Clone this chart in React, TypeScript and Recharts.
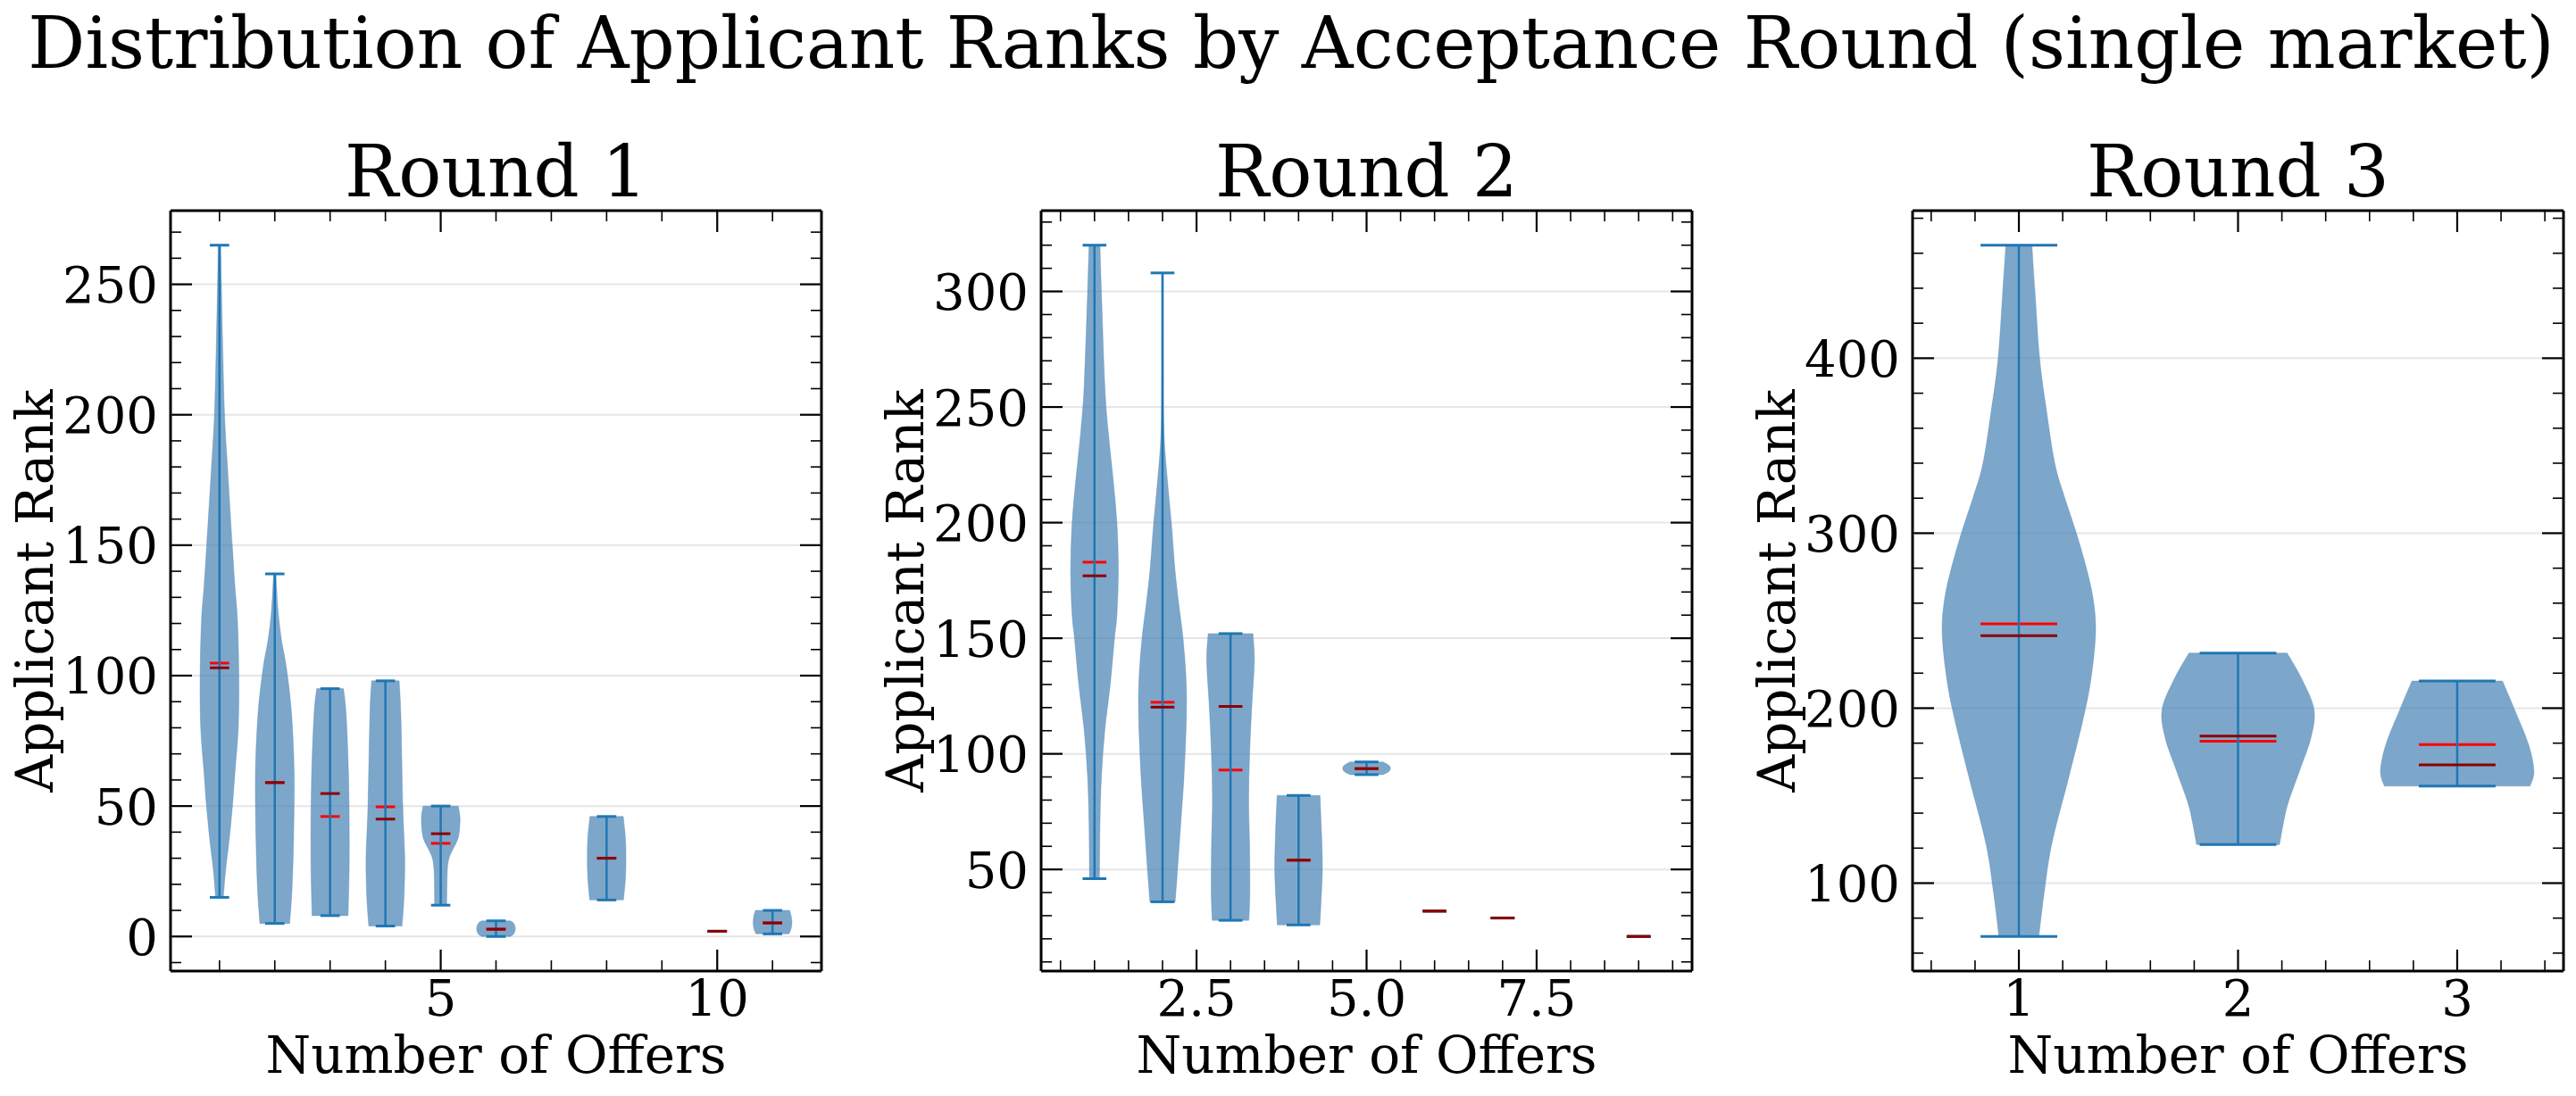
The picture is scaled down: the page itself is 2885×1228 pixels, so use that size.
import React from "react"
import { ComposedChart, XAxis, YAxis, Scatter } from "recharts"

// ---------- Round 1 ----------
const r1Positions = [1, 2, 3, 4, 5, 6, 8, 10, 11]
const r1Mins = [15, 5, 8, 4, 12, 0, 14, 2, 1]
const r1Maxes = [265, 139, 95, 98, 50, 6, 46, 2, 10]
const r1Means = [104.8, 59, 46, 49.7, 35.7, 2.8, 30, 2, 5.2]
const r1Medians = [103, 59, 54.8, 45, 39.4, 2.8, 30, 2, 5.2]
// density outline: [rank, relative half-width]
const r1Shapes = [
  [[15, 0.2], [25, 0.31], [37, 0.5], [50, 0.67], [63, 0.8], [80, 0.97], [100, 1], [121, 0.93], [134, 0.8], [150, 0.66], [178, 0.43], [200, 0.26], [225, 0.17], [250, 0.1], [265, 0.06]],
  [[5, 0.77], [18, 0.89], [37, 0.97], [63, 1], [86, 0.86], [103, 0.6], [114, 0.34], [125, 0.17], [139, 0.06]],
  [[8, 0.93], [30, 0.99], [60, 0.96], [85, 0.83], [95, 0.69]],
  [[4, 0.86], [15, 0.96], [30, 1], [50, 0.9], [85, 0.8], [98, 0.71]],
  [[12, 0.31], [25, 0.34], [30, 0.43], [33, 0.6], [38, 0.91], [45, 1], [50, 0.91]],
  [[0, 0.75], [1, 0.92], [3, 1], [5, 0.92], [6, 0.75]],
  [[14, 0.87], [22, 0.97], [30, 1], [38, 0.97], [46, 0.86]],
  [],
  [[1, 0.85], [3, 0.96], [5.5, 1], [8, 0.96], [10, 0.88]]
]
const r1XTicks = [5, 10]
const r1XLabels = ["5", "10"]
const r1YTicks = [0, 50, 100, 150, 200, 250]

// ---------- Round 2 ----------
const r2Positions = [1, 2, 3, 4, 5, 6, 7, 9]
const r2Mins = [46, 36, 28, 26, 91, 32, 29, 21]
const r2Maxes = [320, 308, 152, 82, 96.5, 32, 29, 21]
const r2Means = [182.9, 122.3, 93, 54, 93.6, 32, 29, 21]
const r2Medians = [177, 120.2, 120.5, 54, 93.6, 32, 29, 21]
const r2Shapes = [
  [[46, 0.21], [70, 0.23], [90, 0.29], [110, 0.43], [130, 0.66], [150, 0.84], [160, 0.94], [179, 1], [200, 0.94], [220, 0.77], [240, 0.57], [260, 0.43], [300, 0.29], [320, 0.23]],
  [[36, 0.53], [47, 0.61], [69, 0.76], [90, 0.9], [115, 1], [132, 0.99], [150, 0.86], [165, 0.68], [180, 0.52], [200, 0.37], [220, 0.19], [240, 0.06], [270, 0.035], [308, 0.03]],
  [[28, 0.77], [40, 0.81], [60, 0.8], [80, 0.76], [100, 0.8], [120, 0.89], [140, 1], [152, 0.94]],
  [[26, 0.89], [35, 0.94], [50, 1], [65, 0.97], [82, 0.9]],
  [[91, 0.7], [92.3, 0.93], [93.7, 1], [95.1, 0.93], [96.5, 0.7]],
  [],
  [],
  []
]
const r2XTicks = [2.5, 5, 7.5]
const r2XLabels = ["2.5", "5.0", "7.5"]
const r2YTicks = [50, 100, 150, 200, 250, 300]

// ---------- Round 3 ----------
const r3Positions = [1, 2, 3]
const r3Mins = [69.5, 122, 155.5]
const r3Maxes = [464.6, 231.5, 215.5]
const r3Means = [248.2, 181.1, 179.2]
const r3Medians = [241.4, 184, 167.6]
const r3Shapes = [
  [[69.5, 0.26], [94.6, 0.33], [122.7, 0.43], [160.5, 0.65], [194.2, 0.84], [216.8, 0.94], [243, 1], [262, 0.97], [280, 0.88], [300, 0.75], [320, 0.6], [339.5, 0.47], [370, 0.36], [400, 0.27], [438, 0.21], [464.6, 0.17]],
  [[122, 0.54], [134, 0.59], [145.4, 0.65], [164, 0.8], [183, 0.95], [199.3, 0.99], [216.8, 0.83], [231.5, 0.64]],
  [[155.5, 0.95], [164, 1], [179.2, 0.93], [200, 0.74], [215.5, 0.59]]
]
const r3XTicks = [1, 2, 3]
const r3XLabels = ["1", "2", "3"]
const r3YTicks = [100, 200, 300, 400]

// ---------- layout ----------
const FIG_W = 2885
const FIG_H = 1228
const PLOT_TOP = 236
const PLOT_BOTTOM = 1088
const PLOT_W = 729
const AX = 1 // axes need a non-zero size to be drawn
const HALF = 0.35 // violin width 0.7
const CAP = 0.175
const FONT = "'DejaVu Serif', serif"
const BODY = "#4682b4"
const LINE = "#1f77b4"
const TICK_FS = 56
const LABEL_FS = 58
const TITLE_FS = 80

const panels = [
  {
    title: "Round 1", left: 0, width: 1000, plotLeft: 191,
    positions: r1Positions, mins: r1Mins, maxes: r1Maxes, means: r1Means, medians: r1Medians, shapes: r1Shapes,
    xDomain: [0.115, 11.885], yDomain: [-13.25, 278.25],
    xTicks: r1XTicks, xLabels: r1XLabels, xMinor: 1, yTicks: r1YTicks, yMinor: 10
  },
  {
    title: "Round 2", left: 1000, width: 975, plotLeft: 1166,
    positions: r2Positions, mins: r2Mins, maxes: r2Maxes, means: r2Means, medians: r2Medians, shapes: r2Shapes,
    xDomain: [0.215, 9.785], yDomain: [6.05, 334.95],
    xTicks: r2XTicks, xLabels: r2XLabels, xMinor: 0.5, yTicks: r2YTicks, yMinor: 10
  },
  {
    title: "Round 3", left: 1975, width: 910, plotLeft: 2142,
    positions: r3Positions, mins: r3Mins, maxes: r3Maxes, means: r3Means, medians: r3Medians, shapes: r3Shapes,
    xDomain: [0.515, 3.485], yDomain: [49.75, 484.35],
    xTicks: r3XTicks, xLabels: r3XLabels, xMinor: 0.2, yTicks: r3YTicks, yMinor: 20
  }
]

const tickList = (domain: number[], step: number) => {
  const out: number[] = []
  const start = Math.ceil(domain[0] / step - 1e-9)
  for (let k = start; k * step <= domain[1] + 1e-9; k++) out.push(Math.round(k * step * 1000) / 1000)
  return out
}
const majorIndex = (v: number, majors: number[]) => majors.findIndex((m) => Math.abs(m - v) < 1e-6)

// smooth one side of the outline (catmull-rom through the pixel points)
const smoothSide = (pts: any[]) => {
  let d = ""
  for (let i = 0; i + 1 < pts.length; i++) {
    const p0 = pts[i - 1] || pts[i]
    const p1 = pts[i]
    const p2 = pts[i + 1]
    const p3 = pts[i + 2] || p2
    const c1x = p1.x + (p2.x - p0.x) / 6
    const c1y = p1.y + (p2.y - p0.y) / 6
    const c2x = p2.x - (p3.x - p1.x) / 6
    const c2y = p2.y - (p3.y - p1.y) / 6
    d += `C${c1x},${c1y} ${c2x},${c2y} ${p2.x},${p2.y}`
  }
  return d
}

// filled violin body from scatter outline points (left side up, right side down)
const bodyLine = (props: any) => {
  const pts = props.points || []
  if (pts.length < 2) return <g />
  const n = pts.length / 2
  const left = pts.slice(0, n)
  const right = pts.slice(n)
  const d = `M${left[0].x},${left[0].y}` + smoothSide(left) + `L${right[0].x},${right[0].y}` + smoothSide(right) + "Z"
  return <path d={d} fill={BODY} fillOpacity={0.7} stroke={BODY} strokeOpacity={0.35} strokeWidth={1} />
}

// pairs of points -> separate segments
const segLine = (color: string, width: number) => (props: any) => {
  const pts = props.points || []
  const segs = []
  for (let i = 0; i + 1 < pts.length; i += 2) {
    segs.push(<line key={i} x1={pts[i].x} y1={pts[i].y} x2={pts[i + 1].x} y2={pts[i + 1].y} stroke={color} strokeWidth={width} />)
  }
  return <g>{segs}</g>
}

const NoDot = () => <g />

function ViolinPanel({ p }: { p: any }) {
  const mLeft = p.plotLeft - p.left
  const mRight = p.width - mLeft - PLOT_W
  const plotRight = mLeft + PLOT_W
  const xAll = tickList(p.xDomain, p.xMinor)
  const yAll = tickList(p.yDomain, p.yMinor)

  const bodies = p.shapes.map((shape: number[][], i: number) => {
    const pos = p.positions[i]
    const leftSide = shape.map(([v, w]) => ({ x: pos - w * HALF, y: v }))
    const rightSide = shape.slice().reverse().map(([v, w]) => ({ x: pos + w * HALF, y: v }))
    return leftSide.concat(rightSide)
  })
  const hSegs = (vals: number[]) =>
    p.positions.flatMap((pos: number, i: number) => [{ x: pos - CAP, y: vals[i] }, { x: pos + CAP, y: vals[i] }])
  const bars = p.positions.flatMap((pos: number, i: number) => [{ x: pos, y: p.mins[i] }, { x: pos, y: p.maxes[i] }])
  const grid = p.yTicks.flatMap((v: number) => [{ x: p.xDomain[0], y: v }, { x: p.xDomain[1], y: v }])

  const xTick = (side: string) => (props: any) => {
    const v = props.payload.value
    const x = props.x
    const idx = majorIndex(v, p.xTicks)
    const len = idx >= 0 ? 24 : 12
    const y0 = side === "bottom" ? PLOT_BOTTOM : PLOT_TOP
    const y1 = side === "bottom" ? y0 - len : y0 + len
    return (
      <g>
        <line x1={x} x2={x} y1={y0} y2={y1} stroke="#000" strokeWidth={idx >= 0 ? 2.2 : 1.6} />
        {side === "bottom" && idx >= 0 && (
          <text x={x} y={PLOT_BOTTOM + 50} textAnchor="middle" fontSize={TICK_FS} fontFamily={FONT} fill="#000">
            {p.xLabels[idx]}
          </text>
        )}
      </g>
    )
  }
  const yTick = (side: string) => (props: any) => {
    const v = props.payload.value
    const y = props.y
    const idx = majorIndex(v, p.yTicks)
    const len = idx >= 0 ? 24 : 12
    const x0 = side === "left" ? mLeft : plotRight
    const x1 = side === "left" ? x0 + len : x0 - len
    return (
      <g>
        <line x1={x0} x2={x1} y1={y} y2={y} stroke="#000" strokeWidth={idx >= 0 ? 2.2 : 1.6} />
        {side === "left" && idx >= 0 && (
          <text x={mLeft - 14} y={y + 20.5} textAnchor="end" fontSize={TICK_FS} fontFamily={FONT} fill="#000">
            {String(v)}
          </text>
        )}
      </g>
    )
  }
  const spine = { stroke: "#000", strokeWidth: 3 }

  return (
    <div style={{ position: "absolute", left: p.left, top: 0 }}>
      <ComposedChart
        width={p.width}
        height={FIG_H}
        margin={{ top: PLOT_TOP - AX, bottom: FIG_H - PLOT_BOTTOM - AX, left: mLeft - AX, right: mRight - AX }}
      >
        <XAxis xAxisId="b" dataKey="x" type="number" orientation="bottom" domain={p.xDomain} allowDataOverflow
          ticks={xAll} interval={0} height={AX} tickSize={0} tickMargin={0} tickLine={false} axisLine={spine} tick={xTick("bottom")} />
        <XAxis xAxisId="t" dataKey="x" type="number" orientation="top" domain={p.xDomain} allowDataOverflow
          ticks={xAll} interval={0} height={AX} tickSize={0} tickMargin={0} tickLine={false} axisLine={spine} tick={xTick("top")} />
        <YAxis yAxisId="l" dataKey="y" type="number" orientation="left" domain={p.yDomain} allowDataOverflow
          ticks={yAll} interval={0} width={AX} tickSize={0} tickMargin={0} tickLine={false} axisLine={spine} tick={yTick("left")} />
        <YAxis yAxisId="r" dataKey="y" type="number" orientation="right" domain={p.yDomain} allowDataOverflow
          ticks={yAll} interval={0} width={AX} tickSize={0} tickMargin={0} tickLine={false} axisLine={spine} tick={yTick("right")} />

        <Scatter xAxisId="b" yAxisId="l" data={grid} shape={NoDot} line={segLine("#e6e6e6", 2)} isAnimationActive={false} legendType="none" />
        {bodies.map((pts: any[], i: number) =>
          pts.length > 0 ? (
            <Scatter key={`body-${i}`} xAxisId="b" yAxisId="l" data={pts} shape={NoDot} line={bodyLine} isAnimationActive={false} legendType="none" />
          ) : null
        )}
        <Scatter xAxisId="b" yAxisId="l" data={hSegs(p.means)} shape={NoDot} line={segLine("#ff0000", 3)} isAnimationActive={false} legendType="none" />
        <Scatter xAxisId="b" yAxisId="l" data={hSegs(p.maxes)} shape={NoDot} line={segLine(LINE, 3)} isAnimationActive={false} legendType="none" />
        <Scatter xAxisId="b" yAxisId="l" data={hSegs(p.mins)} shape={NoDot} line={segLine(LINE, 3)} isAnimationActive={false} legendType="none" />
        <Scatter xAxisId="b" yAxisId="l" data={bars} shape={NoDot} line={segLine(LINE, 2.5)} isAnimationActive={false} legendType="none" />
        <Scatter xAxisId="b" yAxisId="l" data={hSegs(p.medians)} shape={NoDot} line={segLine("#8b0000", 3)} isAnimationActive={false} legendType="none" />
      </ComposedChart>
    </div>
  )
}

export default function App() {
  return (
    <div style={{ position: "absolute", left: 0, top: 0, width: FIG_W, height: FIG_H, background: "#fff", fontFamily: FONT }}>
      <svg width={FIG_W} height={FIG_H} style={{ position: "absolute", left: 0, top: 0 }}>
        <text x={1446} y={76} textAnchor="middle" fontSize={TITLE_FS} fontFamily={FONT} fill="#000">
          Distribution of Applicant Ranks by Acceptance Round (single market)
        </text>
        {panels.map((p) => {
          const cx = p.plotLeft + PLOT_W / 2
          const cy = (PLOT_TOP + PLOT_BOTTOM) / 2
          const lx = p.plotLeft - 132
          return (
            <g key={p.title}>
              <text x={cx} y={220} textAnchor="middle" fontSize={TITLE_FS} fontFamily={FONT} fill="#000">{p.title}</text>
              <text x={cx} y={1202} textAnchor="middle" fontSize={LABEL_FS} fontFamily={FONT} fill="#000">Number of Offers</text>
              <text x={lx} y={cy} textAnchor="middle" fontSize={LABEL_FS} fontFamily={FONT} fill="#000" transform={`rotate(-90 ${lx} ${cy})`}>
                Applicant Rank
              </text>
            </g>
          )
        })}
      </svg>
      {panels.map((p) => (
        <ViolinPanel key={p.title} p={p} />
      ))}
    </div>
  )
}
